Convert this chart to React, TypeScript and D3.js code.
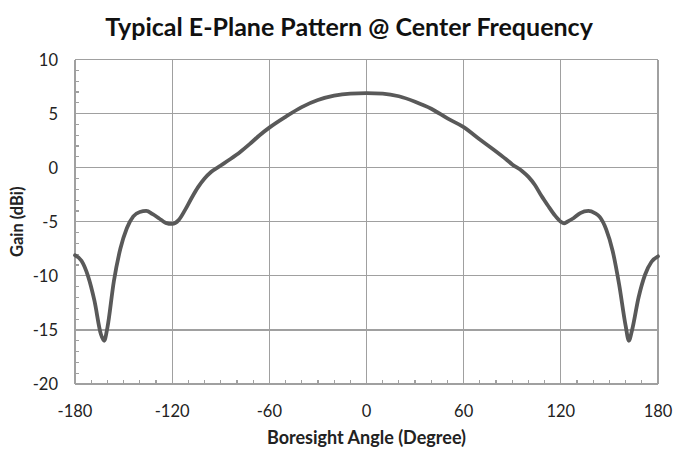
import * as d3 from 'd3';
import React, { useRef, useEffect } from 'react';

// E-plane pattern
const angles = [
  -180, -176, -172, -168, -164, -162, -160, -156, -152, -148, -144, -140, -136, -132, -128, -124, -120,
  -116, -112, -108, -104, -100, -96, -90, -84, -78, -72, -66, -60, -50, -40, -30, -20, -10, 0,
  10, 20, 30, 40, 50, 60, 70, 80, 86, 90, 96, 100, 104, 108, 112, 116, 120, 122, 124, 128, 132, 137,
  141, 144, 148, 152, 156, 160, 162, 164, 168, 172, 176, 180,
];
const gain = [
  -8.1, -8.6, -10.0, -12.3, -15.4, -16.0, -14.8, -10.5, -7.5, -5.6, -4.5, -4.1, -4.0, -4.3, -4.7, -5.1, -5.2,
  -4.85, -3.9, -2.8, -1.8, -1.0, -0.4, 0.2, 0.8, 1.45, 2.2, 3.0, 3.7, 4.7, 5.6, 6.25, 6.65, 6.85, 6.9,
  6.85, 6.6, 6.1, 5.45, 4.55, 3.75, 2.6, 1.5, 0.8, 0.3, -0.3, -0.85, -1.6, -2.6, -3.5, -4.35, -5.0, -5.15,
  -5.0, -4.65, -4.2, -4.0, -4.2, -4.55, -5.7, -7.7, -10.8, -14.6, -16.0, -15.0, -12.0, -9.9, -8.7, -8.2,
];
const xTicks = [-180, -120, -60, 0, 60, 120, 180];
const yTicks = [-20, -15, -10, -5, 0, 5, 10];

const width = 675;
const height = 451;
const margin = { top: 59.5, right: 17, bottom: 67, left: 75 };
const font = "Lato, 'Open Sans', sans-serif";

function App() {
  const ref = useRef(null);

  useEffect(() => {
    const svg = d3.select(ref.current);
    svg.selectAll('*').remove();

    const x = d3.scaleLinear().domain([-180, 180]).range([margin.left, width - margin.right]);
    const y = d3.scaleLinear().domain([-20, 10]).range([height - margin.bottom, margin.top]);

    svg.append('rect').attr('width', width).attr('height', height).attr('fill', '#fff');

    // gridlines
    const grid = svg.append('g').attr('stroke', '#a0a0a0').attr('stroke-width', 1.2).attr('shape-rendering', 'crispEdges');
    grid.selectAll('.gx').data(xTicks).enter().append('line')
      .attr('x1', d => x(d)).attr('x2', d => x(d))
      .attr('y1', y(-20)).attr('y2', y(10));
    grid.selectAll('.gy').data(yTicks).enter().append('line')
      .attr('x1', x(-180)).attr('x2', x(180))
      .attr('y1', d => y(d)).attr('y2', d => y(d));

    // minor ticks
    const minorX = d3.range(-170, 180, 10).filter(d => d % 60 !== 0);
    grid.selectAll('.mx').data(minorX).enter().append('line')
      .attr('x1', d => x(d)).attr('x2', d => x(d))
      .attr('y1', y(-20)).attr('y2', y(-20) - 4);
    const minorY = d3.range(-19, 10, 1).filter(d => d % 5 !== 0);
    grid.selectAll('.my').data(minorY).enter().append('line')
      .attr('x1', x(-180)).attr('x2', x(-180) + 4)
      .attr('y1', d => y(d)).attr('y2', d => y(d));

    // tick labels
    svg.append('g').selectAll('text').data(xTicks).enter().append('text')
      .attr('x', d => x(d)).attr('y', y(-20) + 33)
      .attr('text-anchor', 'middle')
      .attr('font-family', font).attr('font-size', 16.5).attr('fill', '#222')
      .text(d => d);
    svg.append('g').selectAll('text').data(yTicks).enter().append('text')
      .attr('x', x(-180) - 17).attr('y', d => y(d) + 6)
      .attr('text-anchor', 'end')
      .attr('font-family', font).attr('font-size', 16.5).attr('fill', '#222')
      .text(d => d);

    // curve
    const pts = angles.map((a, i) => [a, gain[i]]);
    const line = d3.line().x(d => x(d[0])).y(d => y(d[1])).curve(d3.curveMonotoneX);
    svg.append('path').datum(pts)
      .attr('d', line)
      .attr('fill', 'none').attr('stroke', '#595959').attr('stroke-width', 3.8)
      .attr('stroke-linejoin', 'round').attr('stroke-linecap', 'round');

    // titles
    svg.append('text')
      .attr('x', 349).attr('y', 36).attr('text-anchor', 'middle')
      .attr('font-family', font).attr('font-weight', 'bold').attr('font-size', 25).attr('fill', '#111')
      .text('Typical E-Plane Pattern @ Center Frequency');
    svg.append('text')
      .attr('x', (x(-180) + x(180)) / 2).attr('y', 444).attr('text-anchor', 'middle')
      .attr('font-family', font).attr('font-weight', 'bold').attr('font-size', 18).attr('fill', '#222')
      .text('Boresight Angle (Degree)');
    svg.append('text')
      .attr('transform', `translate(23, ${y(-5)}) rotate(-90)`).attr('text-anchor', 'middle')
      .attr('font-family', font).attr('font-weight', 'bold').attr('font-size', 16.5).attr('fill', '#222')
      .text('Gain (dBi)');
  }, []);

  return (
    <div className="chart" style={{ position: 'absolute', left: 0, top: 0 }}>
      <svg ref={ref} width={width} height={height} style={{ display: 'block' }}></svg>
    </div>
  );
}

export default App;
